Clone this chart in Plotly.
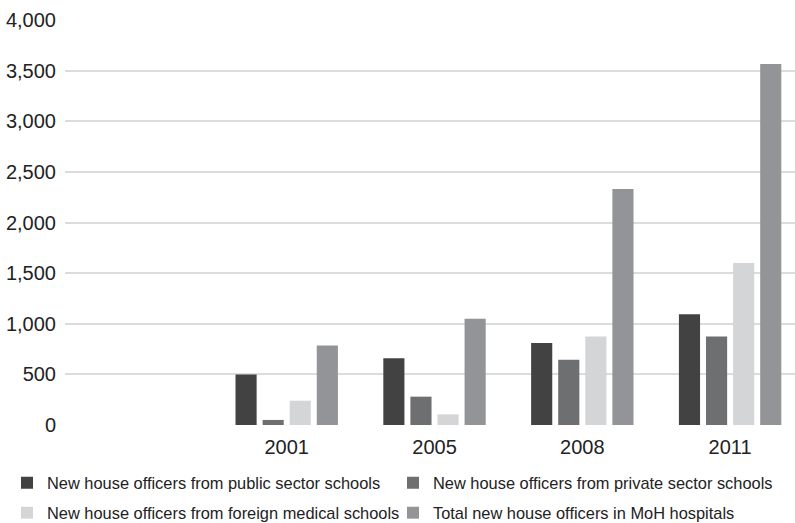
import plotly.graph_objects as go

# Survey years and series values (number of new house officers)
years = ["2001", "2005", "2008", "2011"]
public_schools = [500, 660, 810, 1095]
private_schools = [50, 280, 645, 875]
foreign_schools = [240, 105, 875, 1600]
total_moh = [785, 1050, 2330, 3565]

series = [
    ("New house officers from public sector schools", public_schools, "#424242", "legend"),
    ("New house officers from private sector schools", private_schools, "#6e6f70", "legend"),
    ("New house officers from foreign medical schools", foreign_schools, "#d4d5d7", "legend2"),
    ("Total new house officers in MoH hospitals", total_moh, "#939497", "legend2"),
]

fig = go.Figure()
for name, vals, color, leg in series:
    fig.add_trace(go.Bar(
        x=years, y=vals, name=name, legend=leg,
        marker=dict(color=color, line=dict(width=0)),
    ))

font_main = "Liberation Sans, Arial, Helvetica, sans-serif"
legend_common = dict(
    orientation="h", xanchor="left", yanchor="middle",
    font=dict(family=font_main, size=16.4, color="#222222"),
    bgcolor="rgba(0,0,0,0)", borderwidth=0,
    entrywidth=341, entrywidthmode="pixels",
    itemclick=False, itemdoubleclick=False,
)

fig.update_layout(
    width=795, height=523,
    margin=dict(l=65, r=0, t=20, b=98, autoexpand=False),
    paper_bgcolor="white", plot_bgcolor="white",
    barmode="group", bargap=0.267, bargroupgap=0.22,
    font=dict(family=font_main, size=20, color="#222222"),
    xaxis=dict(
        type="category", categoryorder="array", categoryarray=years,
        range=[-1.5, 3.439], showgrid=False, zeroline=False,
        showline=False, ticks="", ticklabelstandoff=8,
        tickfont=dict(size=20),
    ),
    yaxis=dict(
        range=[0, 4000], tickvals=[0, 500, 1000, 1500, 2000, 2500, 3000, 3500, 4000],
        tickformat=",d", showgrid=True, gridcolor="#dcdcdc", gridwidth=1.5,
        zeroline=False, showline=False,
        ticks="outside", ticklen=4, tickcolor="rgba(0,0,0,0)",
        tickfont=dict(size=20),
    ),
    legend=dict(x=-58 / 730, y=-58 / 405, **legend_common),
    legend2=dict(x=-58 / 730, y=-88 / 405, **legend_common),
)

fig.write_html("out.html")
